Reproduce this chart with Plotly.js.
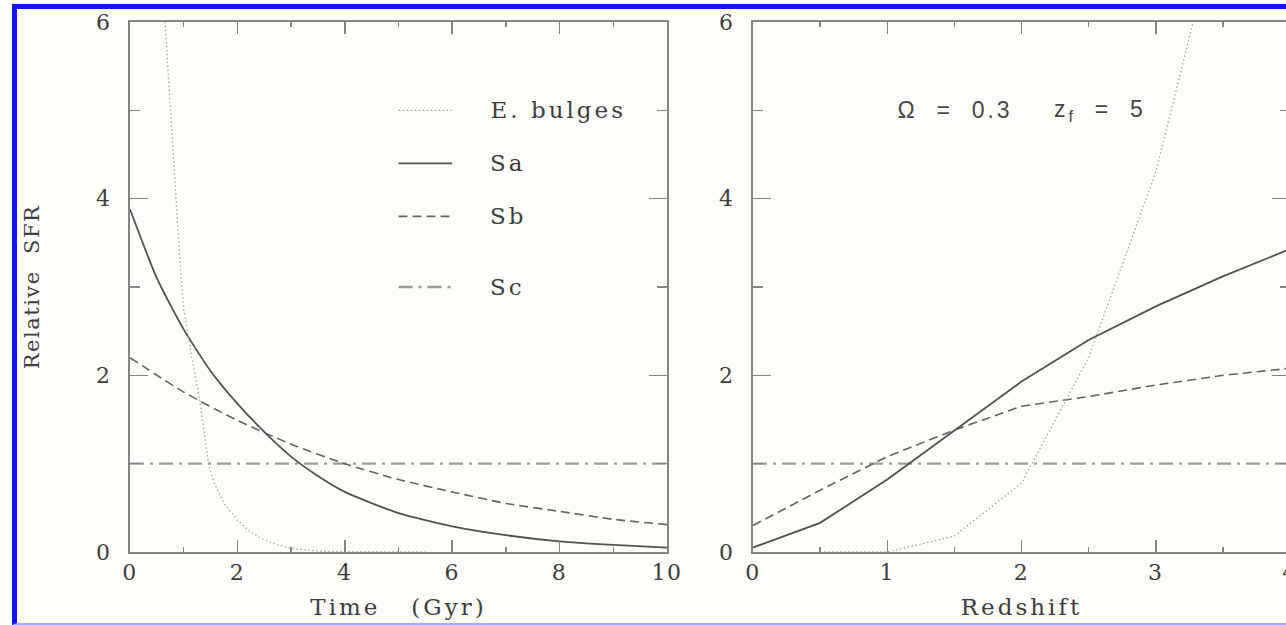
<!DOCTYPE html>
<html>
<head>
<meta charset="utf-8">
<script src="https://cdn.plot.ly/plotly-3.0.1.min.js"></script>
<style>
  html, body { margin: 0; padding: 0; overflow: hidden; background: #fdfdfa; }
  #chart { position: absolute; left: 0; top: 0; width: 1300px; height: 625px; }
  #frame {
    position: absolute; left: 12px; top: 4px; width: 1400px; height: 614px;
    border-left: 5px solid #1414ee; border-top: 5px solid #1414ee;
    border-bottom: 2px solid #a8a8ff; pointer-events: none; z-index: 5;
  }
  .main-svg text { letter-spacing: 3px; }
  .main-svg .xtick text, .main-svg .ytick text, .main-svg .x2tick text, .main-svg .y2tick text,
  .main-svg text.ytitle { letter-spacing: 1.5px; }
</style>
</head>
<body>
<div id="chart"></div>
<div id="frame"></div>
<script>
// Relative star formation rate against cosmic time (Gyr)
const ebulgeTime = [0.6, 0.65, 0.75, 0.86, 0.93, 1.0, 1.15, 1.3, 1.46, 1.55, 1.75, 2.0, 2.25, 2.5, 2.75, 3.0, 3.5, 4.0, 5.5];
const ebulgeSfrTime = [6.5, 6.0, 5.0, 4.0, 3.3, 2.75, 2.2, 1.72, 1.0, 0.81, 0.55, 0.36, 0.22, 0.14, 0.08, 0.04, 0.01, 0.005, 0];
const saTime = [0, 0.5, 1, 1.5, 2, 2.5, 3, 3.5, 4, 5, 6, 7, 8, 9, 10];
const saSfrTime = [3.88, 3.1, 2.52, 2.05, 1.68, 1.36, 1.08, 0.86, 0.68, 0.44, 0.29, 0.19, 0.12, 0.08, 0.05];
const sbTime = [0, 1, 2, 3, 4, 5, 6, 7, 8, 9, 10];
const sbSfrTime = [2.2, 1.81, 1.49, 1.22, 1.0, 0.82, 0.68, 0.55, 0.46, 0.37, 0.31];
const scTime = [0, 10];
const scSfrTime = [1, 1];

// The same histories against redshift (Omega = 0.3, z_f = 5)
const ebulgeZ = [0.5, 1, 1.5, 2, 2.5, 3, 3.5];
const ebulgeSfrZ = [0, 0, 0.18, 0.78, 2.2, 4.3, 7.35];
const redshift = [0, 0.5, 1, 1.5, 2, 2.5, 3, 3.5, 4];
const saSfrZ = [0.05, 0.33, 0.82, 1.38, 1.93, 2.4, 2.78, 3.12, 3.43];
const sbSfrZ = [0.3, 0.7, 1.08, 1.38, 1.65, 1.76, 1.89, 2.0, 2.08];
const scZ = [0, 4];
const scSfrZ = [1, 1];

// Legend rows drawn inside the left panel
const legendNames = ['E.\u00a0bulges', 'Sa', 'Sb', 'Sc'];
const legendRowY = [5.0, 4.4, 3.8, 3.0];

const W = 1300, H = 625;
const serif = 'DejaVu Serif, serif';
const sans = 'Liberation Sans, Arial, sans-serif';
const textGrey = '#3e3e3e';
const axisGrey = '#858585';
const SPACING = 3; // letter spacing (px) for labels, see the stylesheet

// Plotly centres text by its unspaced width; shift left-anchored labels back
// so the spaced text starts where it is placed.
function spacingShift(str) {
  return (str.replace(/<[^>]+>/g, '').length - 1) * SPACING / 2;
}

const styles = {
  ebulge: { color: '#a5a5a5', width: 1.3, dash: '1.5px,2.5px' },
  sa: { color: '#525252', width: 1.8, dash: 'solid' },
  sb: { color: '#646464', width: 1.6, dash: '9px,5px' },
  sc: { color: '#9c9c9c', width: 2.3, dash: '14px,6px,3px,6px' }
};

function line(x, y, st, xa, ya, shape) {
  return { x: x, y: y, xaxis: xa, yaxis: ya, type: 'scatter', mode: 'lines',
           line: Object.assign({}, st, { shape: shape || 'linear', smoothing: 0.6 }),
           showlegend: false, hoverinfo: 'skip' };
}

const traces = [
  line(scTime, scSfrTime, styles.sc, 'x', 'y'),
  line(sbTime, sbSfrTime, styles.sb, 'x', 'y', 'spline'),
  line(saTime, saSfrTime, styles.sa, 'x', 'y', 'spline'),
  line(ebulgeTime, ebulgeSfrTime, styles.ebulge, 'x', 'y'),
  line(scZ, scSfrZ, styles.sc, 'x2', 'y2'),
  line(redshift, sbSfrZ, styles.sb, 'x2', 'y2'),
  line(redshift, saSfrZ, styles.sa, 'x2', 'y2'),
  line(ebulgeZ, ebulgeSfrZ, styles.ebulge, 'x2', 'y2')
];

function axis(extra) {
  return Object.assign({
    showline: true, linecolor: axisGrey, linewidth: 2, mirror: 'allticks',
    ticks: 'inside', tickcolor: axisGrey, tickwidth: 1.5,
    showgrid: false, zeroline: false, fixedrange: true,
    tickfont: { family: serif, size: 22, color: textGrey }
  }, extra);
}

const xMinor = { ticks: 'inside', ticklen: 5, tickcolor: axisGrey, tickwidth: 1.5 };
const yTick = { ticklen: 18, tick0: 0, dtick: 2, range: [0, 6],
                minor: { ticks: 'inside', ticklen: 10, dtick: 1, tickcolor: axisGrey, tickwidth: 1.5 } };

const legendStyles = [styles.ebulge, styles.sa, styles.sb, styles.sc];
const shapes = legendRowY.map((yv, i) => ({
  type: 'line', xref: 'x', yref: 'y', x0: 5, x1: 6, y0: yv, y1: yv,
  line: { color: legendStyles[i].color, width: legendStyles[i].width, dash: legendStyles[i].dash }
}));

const omegaText = '\u03a9\u00a0\u00a0=\u00a0\u00a00.3';
const zfText = 'z<sub>f</sub>\u00a0\u00a0=\u00a0\u00a05';

const annotations = legendRowY.map((yv, i) => ({
  xref: 'x', yref: 'y', x: 6.7, y: yv, xanchor: 'left', yanchor: 'middle',
  xshift: spacingShift(legendNames[i]),
  text: legendNames[i], showarrow: false,
  font: { family: serif, size: 23, color: textGrey }
})).concat([
  { xref: 'x2', yref: 'y2', x: 1.07, y: 5.0, xanchor: 'left', yanchor: 'middle', showarrow: false,
    xshift: spacingShift(omegaText),
    text: omegaText, font: { family: sans, size: 23, color: '#484848' } },
  { xref: 'x2', yref: 'y2', x: 2.24, y: 5.0, xanchor: 'left', yanchor: 'middle', showarrow: false,
    xshift: spacingShift(zfText),
    text: zfText, font: { family: sans, size: 23, color: '#484848' } }
]);

const layout = {
  width: W, height: H,
  margin: { l: 0, r: 0, t: 0, b: 0 },
  paper_bgcolor: '#fdfdfa', plot_bgcolor: '#fdfdfa',
  showlegend: false,
  xaxis: axis({
    domain: [130 / W, 667 / W], range: [0, 10], tick0: 0, dtick: 2, ticklen: 12,
    minor: Object.assign({}, xMinor, { dtick: 1 }),
    anchor: 'y', ticklabelstandoff: 0,
    title: { text: 'Time\u00a0\u00a0\u00a0(Gyr)', standoff: 14, font: { family: serif, size: 23, color: textGrey } }
  }),
  yaxis: axis(Object.assign({}, yTick, {
    domain: [1 - 552 / H, 1 - 22 / H], anchor: 'x', ticklabelstandoff: 12,
    title: { text: 'Relative\u00a0\u00a0SFR', standoff: 52, font: { family: serif, size: 21, color: textGrey } }
  })),
  xaxis2: axis({
    domain: [753 / W, 1290 / W], range: [0, 4], tick0: 0, dtick: 1, ticklen: 12,
    minor: Object.assign({}, xMinor, { dtick: 0.5 }),
    anchor: 'y2', ticklabelstandoff: 0,
    title: { text: 'Redshift', standoff: 14, font: { family: serif, size: 23, color: textGrey } }
  }),
  yaxis2: axis(Object.assign({}, yTick, {
    domain: [1 - 552 / H, 1 - 22 / H], anchor: 'x2', ticklabelstandoff: 12
  })),
  shapes: shapes,
  annotations: annotations
};

Plotly.newPlot('chart', traces, layout, { staticPlot: true, displayModeBar: false });
</script>
</body>
</html>
